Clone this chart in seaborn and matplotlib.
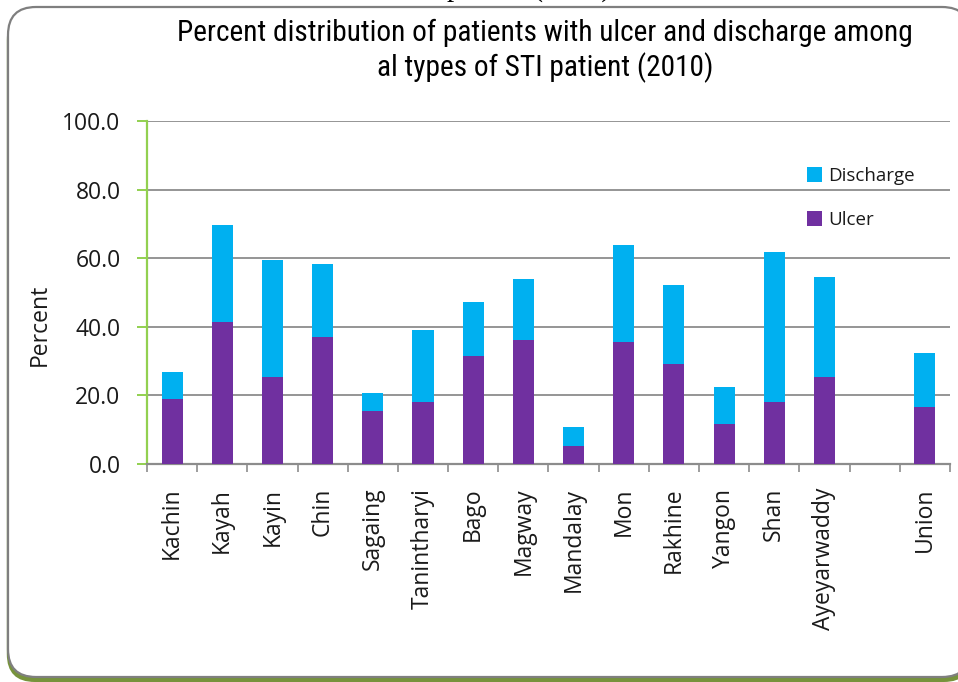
import matplotlib
matplotlib.use("Agg")
import matplotlib.pyplot as plt
from matplotlib import font_manager
from matplotlib.patches import FancyBboxPatch, Patch
from matplotlib.ticker import FixedLocator
import numpy as np
import pandas as pd
import seaborn as sns

# Region / state names (" " keeps an empty slot before the national total)
regions = ["Kachin", "Kayah", "Kayin", "Chin", "Sagaing", "Tanintharyi", "Bago",
           "Magway", "Mandalay", "Mon", "Rakhine", "Yangon", "Shan",
           "Ayeyarwaddy", " ", "Union"]
# Percent of STI patients with ulcer
ulcer = [18.9, 41.4, 25.4, 37.0, 15.5, 18.1, 31.5, 36.2, 5.3, 35.6, 29.3,
         11.7, 18.1, 25.4, np.nan, 16.6]
# Percent of STI patients with discharge (stacked above ulcer)
discharge = [7.9, 28.3, 34.1, 21.3, 5.2, 21.0, 15.8, 17.7, 5.5, 28.3, 22.9,
             10.8, 43.7, 29.0, np.nan, 15.9]
y_ticks = [0, 20, 40, 60, 80, 100]

df = pd.DataFrame({"region": regions, "ulcer": ulcer, "discharge": discharge})
df["total"] = df["ulcer"] + df["discharge"]

C_DIS = "#00B0F0"
C_ULC = "#7030A0"
GRID = "#8C8C8C"
GREEN = "#92D050"
SANS = ["Open Sans", "DejaVu Sans"]

sns.set_theme(style="white")
plt.rcParams["font.family"] = SANS


def narrow_family():
    """Pick a condensed sans family if one is installed."""
    names = {f.name for f in font_manager.fontManager.ttflist}
    for cand in ["Liberation Sans Narrow", "DejaVu Sans Condensed",
                 "Roboto Condensed", "Open Sans Condensed", "Noto Sans Condensed",
                 "Arial Narrow"]:
        if cand in names:
            return cand, "normal"
    for f in font_manager.fontManager.ttflist:
        if f.stretch in ("condensed", "semi-condensed", "extra-condensed") \
                and f.style == "normal":
            return f.name, f.stretch
    return "Roboto", "normal"


fig = plt.figure(figsize=(9.58, 6.82), dpi=100)

# Rounded frame with a thin green drop shadow along the bottom
shadow = FancyBboxPatch((0.068, 0.00), 9.65, 6.70,
                        boxstyle="round,pad=0,rounding_size=0.28",
                        transform=fig.dpi_scale_trans, facecolor="#77933C",
                        edgecolor="none", zorder=0)
frame = FancyBboxPatch((0.08, 0.05), 9.62, 6.70,
                       boxstyle="round,pad=0,rounding_size=0.28",
                       transform=fig.dpi_scale_trans, facecolor="white",
                       edgecolor="#7F7F7F", linewidth=1.6, zorder=1)
fig.patches.extend([shadow, frame])

ax = fig.add_axes([0.1534, 0.3196, 0.8382, 0.5030])
ax.set_facecolor("none")
ax.set_zorder(2)

sns.barplot(data=df, x="region", y="total", order=regions, color=C_DIS,
            width=0.42, saturation=1, errorbar=None, linewidth=0, ax=ax,
            zorder=3)
sns.barplot(data=df, x="region", y="ulcer", order=regions, color=C_ULC,
            width=0.42, saturation=1, errorbar=None, linewidth=0, ax=ax,
            zorder=3)

ax.set_xlim(-0.5, len(regions) - 0.5)
ax.set_ylim(0, 100)
ax.set_yticks(y_ticks)
ax.set_yticklabels([f"{v:.1f}" for v in y_ticks], fontsize=16.5, color="#1a1a1a")
ax.yaxis.grid(True, color=GRID, linewidth=1.3, zorder=0)
ax.set_axisbelow(True)

for side in ("top", "right"):
    ax.spines[side].set_visible(False)
ax.spines["left"].set_color(GREEN)
ax.spines["left"].set_linewidth(1.6)
ax.spines["bottom"].set_color(GRID)
ax.spines["bottom"].set_linewidth(1.6)

ax.tick_params(axis="y", which="major", left=True, length=7, width=1.4,
               color=GREEN, pad=12, direction="out")
ax.tick_params(axis="x", which="major", length=0, pad=17)
ax.xaxis.set_minor_locator(FixedLocator(np.arange(-0.5, len(regions), 1.0)))
ax.tick_params(axis="x", which="minor", bottom=True, length=6, width=1.2,
               color=GRID, direction="out")
ax.set_xticks(range(len(regions)))
ax.set_xticklabels(regions, rotation=90, fontsize=16.5, color="#1a1a1a")

ax.set_xlabel("")
ax.set_ylabel("Percent", fontsize=16.5, color="#1a1a1a")
ax.yaxis.set_label_coords(-0.118, 0.405)

handles = [Patch(facecolor=C_DIS, edgecolor="none", label="Discharge"),
           Patch(facecolor=C_ULC, edgecolor="none", label="Ulcer")]
leg = ax.legend(handles=handles, loc="upper left",
                bbox_to_anchor=(0.813, 0.888), frameon=False, fontsize=13.5,
                handlelength=0.8, handleheight=0.8, handletextpad=0.3,
                labelspacing=1.4, borderaxespad=0)
for t in leg.get_texts():
    t.set_color("#1a1a1a")

# Two-line title in a narrow face, sized to span the chart width
tfam, tstretch = narrow_family()
title_lines = ["Percent distribution of patients with ulcer and discharge among",
               "al types of STI patient (2010)"]
titles = []
for line, ypx in zip(title_lines, (33, 68)):
    titles.append(fig.text(0.569, 1 - ypx / 682, line, ha="center",
                           va="center", fontsize=20, family=[tfam, "DejaVu Sans"],
                           stretch=tstretch, color="black", zorder=5))
fig.canvas.draw()
renderer = fig.canvas.get_renderer()
w = titles[0].get_window_extent(renderer).width
size = min(22.0, 20 * 735 / w)
for t in titles:
    t.set_fontsize(size)

# Caption line from the page above, cut by the top edge
fig.text(447 / 958, 1 + 4 / 682, "patient (2010)", ha="left", va="baseline",
         fontsize=21, family=["Liberation Serif", "DejaVu Serif"],
         color="black", zorder=5)

fig.savefig("out.png", dpi=100)
